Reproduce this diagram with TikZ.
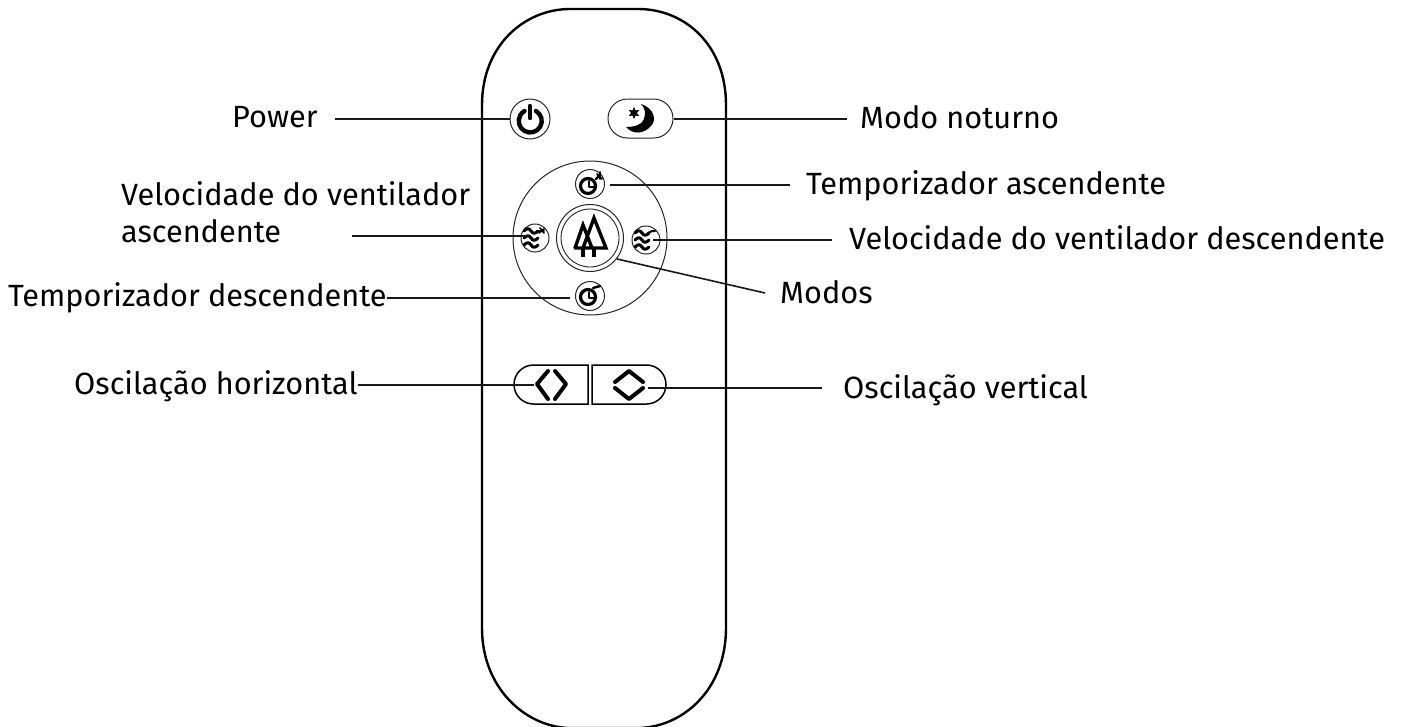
\documentclass[tikz,border=0pt]{standalone}
\usepackage{fontspec}
\setmainfont{Fira Sans}
\usetikzlibrary{shapes.geometric}
\tikzset{
  lbl/.style={anchor=base west,inner sep=0pt,font=\fontsize{30.7}{35}\selectfont,text=black,align=left},
  conn/.style={draw=black!90,line width=1.6pt},
  btn/.style={circle,draw=black!85,line width=1pt,inner sep=0pt,minimum size=#1},
  icon/.style={draw=black,line width=3pt,line cap=round,line join=round},
  thin icon/.style={draw=black,line width=3pt,line cap=round,line join=round},
  wave/.pic={\draw[thin icon] (-7,0) .. controls (-4,-3) and (-2,-3) .. (0,0) .. controls (2,3) and (4,3) .. (7,0);},
}
\begin{document}
\begin{tikzpicture}[x=1pt,y=-1pt]
\useasboundingbox (0,0) rectangle (1405,726);
% body
\begin{scope}
\clip (0,0) rectangle (1405,726);
\draw[black,line width=2.4pt] (482,105) .. controls (482,45) and (525,9) .. (570,9) -- (638,9)
  .. controls (685,9) and (726,45) .. (726,105) -- (726,628)
  .. controls (726,688) and (685,726) .. (640,728) -- (568,728)
  .. controls (525,726) and (482,688) .. (482,628) -- cycle;
\end{scope}
% buttons
\node[btn=40pt] (power) at (530,119) {};
\node[draw=black!85,line width=1pt,rounded corners=19.4pt,minimum width=65pt,minimum height=39pt,inner sep=0pt] (night) at (640.5,118.5) {};
\node[btn=154pt] (ring) at (590,238) {};
\node[btn=67pt] (mode) at (590,238) {};
\node[btn=58pt,line width=.9pt] (modein) at (590,238) {};
\node[btn=29pt] (tup) at (590,184) {};
\node[btn=29pt] (tdown) at (590,296) {};
\node[btn=28pt] (fup) at (535,238) {};
\node[btn=28pt] (fdown) at (646,240) {};
\coordinate (hbtn) at (551,384.5);
\coordinate (vbtn) at (629,384.5);
\draw[black,line width=1.5pt] (588,365) -- (533.5,365) arc (-90:-270:19.5) -- (588,404) -- cycle;
\draw[black,line width=1.5pt] (592,365) -- (646.5,365) arc (-90:90:19.5) -- (592,404) -- cycle;
% power icon
\draw[icon,line width=4.4pt] (536,111) arc (-60:240:11.5);
\draw[icon,line width=4.4pt] (530,106) -- (530,118);
% moon icon
\fill[black] (641,104) .. controls (654,108) and (657,120) .. (651,126)
  .. controls (644,134) and (633,135) .. (626,127)
  .. controls (634,127) and (642,125) .. (644,119)
  .. controls (646,113) and (645,108) .. (641,104) -- cycle;
\node[star,star points=6,star point ratio=2,fill=black,inner sep=0pt,minimum size=12pt] (stara) at (634,113) {};
% trees
\draw[icon,line width=3.4pt,line join=miter] (575,248) -- (583,225) -- (592,248) (583,248) -- (594,218) -- (606,248) -- (575,248);
\draw[icon,line width=3.6pt,line cap=butt] (583,248) -- (583,257) (594,248) -- (594,257);
% timers
\draw[thin icon,line width=3.2pt] (588,186) circle (7.5);
\draw[thin icon,line width=2pt] (589,181) -- (589,187) -- (594,187);
\draw[thin icon,line width=2.4pt] (596,179) -- (600,175);
\draw[thin icon,line width=1.8pt] (597,174) -- (602,179) (600,172) -- (600,179);
\draw[thin icon,line width=3.2pt] (588,297) circle (7.5);
\draw[thin icon,line width=2pt] (589,292) -- (589,298) -- (594,298);
\draw[thin icon,line width=2.4pt] (593,288) -- (600,286);
% fans
\foreach \yy in {231,238,245} \pic at (531,\yy) {wave};
\draw[thin icon,line width=1.8pt] (537,231) -- (544,231) (540,228) -- (544,233) (544,229) -- (539,233);
\foreach \yy in {233,240,247} \pic at (642,\yy) {wave};
\draw[thin icon,line width=2pt] (648,233) -- (652,231) -- (655,231);
% chevrons
\draw[icon,line width=4pt] (548,371) -- (537,384) -- (548,399) (555,371) -- (566,384) -- (555,399);
\draw[icon,line width=4pt] (615,382) -- (629,371) -- (643,382) (615,388) -- (629,399) -- (643,388);
% labels
\node[lbl] (lpower) at (232,127) {Power};
\node[lbl] (lnight) at (860,128) {Modo noturno};
\node[lbl] (ltup) at (806,194) {Temporizador ascendente};
\node[lbl] (lfup) at (121,205) {Velocidade do ventilador};
\node[lbl] (lfup2) at (121,242) {ascendente};
\node[lbl] (lfdown) at (849,249) {Velocidade do ventilador descendente};
\node[lbl] (lmode) at (780,303) {Modos};
\node[lbl] (ltdown) at (8,306) {Temporizador descendente};
\node[lbl] (lh) at (74,394) {Oscilação horizontal};
\node[lbl] (lv) at (843,398) {Oscilação vertical};
% connectors
\coordinate (e1) at (335,119); \draw[conn] (e1) -- (power.west);
\coordinate (e2) at (847,119); \draw[conn] (e2) -- (night.east|-e2);
\coordinate (e3) at (790,185); \draw[conn] (e3) -- ([xshift=5pt]tup.east|-e3);
\coordinate (e4) at (352,236); \draw[conn] (e4) -- ([xshift=8pt]fup.west|-e4);
\coordinate (e5) at (832,240); \draw[conn] (e5) -- ([xshift=-8pt]fdown.east|-e5);
\coordinate (e6) at (765,293); \draw[conn] (e6) -- (mode.-38);
\coordinate (e7) at (570,298); \draw[conn] (ltdown.east|-e7) -- (e7);
\coordinate (e8) at (534,385); \draw[conn] (lh.east|-e8) -- (e8);
\coordinate (e9) at (822,388); \draw[conn] (e9) -- ([xshift=19pt]vbtn|-e9);
\end{tikzpicture}
\end{document}
